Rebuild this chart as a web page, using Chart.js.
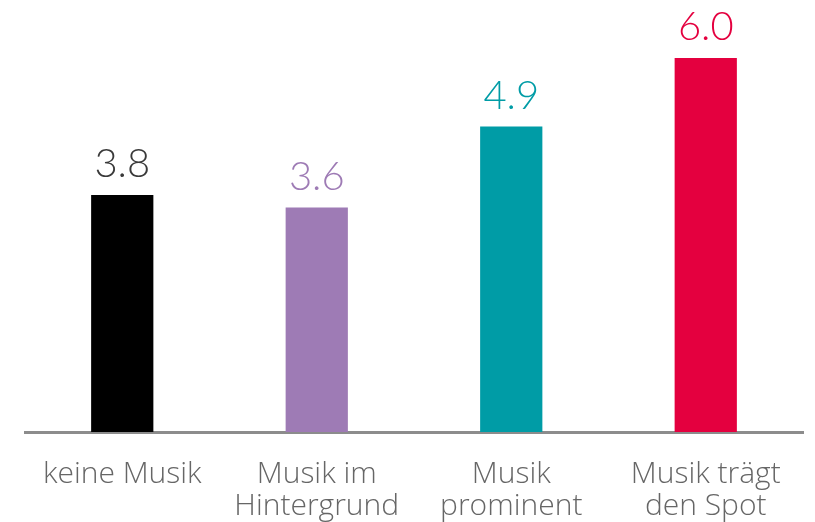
<!DOCTYPE html>
<html>
<head>
<meta charset="utf-8">
<script src="https://cdn.jsdelivr.net/npm/chart.js@4"></script>
<style>
  html, body { margin: 0; padding: 0; background: #fff; }
  #wrap { width: 815px; height: 522px; }
</style>
</head>
<body>
<div id="wrap"><canvas id="chart" width="815" height="522"></canvas></div>
<script>
// categories and values
const categories = [['keine Musik'], ['Musik im', 'Hintergrund'], ['Musik', 'prominent'], ['Musik trägt', 'den Spot']];
const values = [3.8, 3.6, 4.9, 6.0];
const barColors = ['#000000', '#9e7bb5', '#009ca6', '#e4003f'];
const labelColors = ['#3a3a3a', '#9e7bb5', '#009ca6', '#e4003f'];

// value labels above each bar
const valueLabels = {
    id: 'valueLabels',
    afterDatasetsDraw(chart) {
        const ctx = chart.ctx;
        const meta = chart.getDatasetMeta(0);
        ctx.save();
        ctx.font = '300 40px Lato';
        ctx.textAlign = 'center';
        ctx.textBaseline = 'alphabetic';
        meta.data.forEach((bar, i) => {
            ctx.fillStyle = labelColors[i];
            ctx.fillText(values[i].toFixed(1), bar.x, bar.y - 18);
        });
        ctx.restore();
    }
};

const ctx = document.getElementById('chart').getContext('2d');
new Chart(ctx, {
    type: 'bar',
    data: {
        labels: categories,
        datasets: [{
            data: values,
            backgroundColor: barColors,
            barPercentage: 0.32,
            categoryPercentage: 1
        }]
    },
    plugins: [valueLabels],
    options: {
        responsive: false,
        animation: false,
        layout: { padding: { left: 25, right: 12, top: 0, bottom: 0 } },
        plugins: {
            legend: { display: false },
            tooltip: { enabled: false }
        },
        scales: {
            x: {
                grid: { display: false },
                border: { color: '#8c8c8c', width: 3 },
                ticks: {
                    color: '#666666',
                    padding: 18,
                    maxRotation: 0,
                    font: { family: 'Open Sans', weight: '300', size: 30, lineHeight: '32px' }
                },
                afterFit(scale) { scale.height = 90; }
            },
            y: {
                display: false,
                min: 0,
                max: 6.93
            }
        }
    }
});
</script>
</body>
</html>
